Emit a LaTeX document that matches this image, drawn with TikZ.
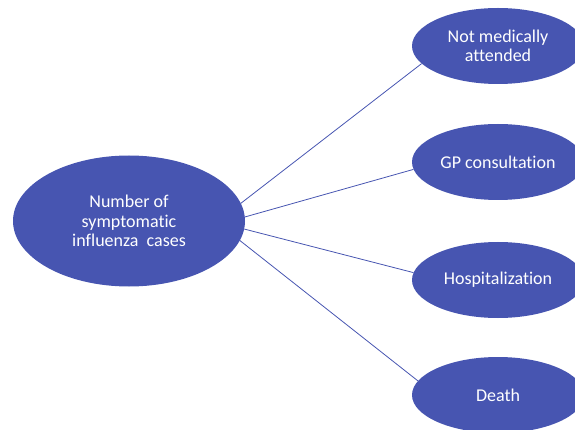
\documentclass[tikz,border=0pt]{standalone}
\usepackage{fontspec}
\setmainfont{Carlito}[Ligatures=CommonOff]
\usetikzlibrary{shapes.geometric}
\definecolor{flublue}{HTML}{4755B1}
\begin{document}
\begin{tikzpicture}[x=1pt,y=-1pt]
	\tikzset{outcome/.style = {shape=ellipse, fill=flublue, text=white, minimum width=172pt, minimum height=76pt, inner sep=0pt, align=center, font=\fontsize{18}{19.5}\selectfont}}
	\tikzset{edge/.style = {draw=flublue, line width=0.8pt}}
	\clip (0,0) rectangle (575,430);
	% Cases and their outcomes
	\node[outcome, minimum width=232pt, minimum height=131pt] (S) at (129,221) {Number of\\symptomatic\\influenza\ \ cases};
	\node[outcome] (N) at (498,46) {Not medically\\attended};
	\node[outcome] (G) at (498,162) {GP consultation};
	\node[outcome] (H) at (498,280) {Hospitalization};
	\node[outcome] (D) at (498,395) {Death};
	\draw[edge] (S.9) to (N.193);
	\draw[edge] (S.2) to (G.185);
	\draw[edge] (S.-4) to (H.175);
	\draw[edge] (S.-10) to (D.170);
\end{tikzpicture}
\end{document}
